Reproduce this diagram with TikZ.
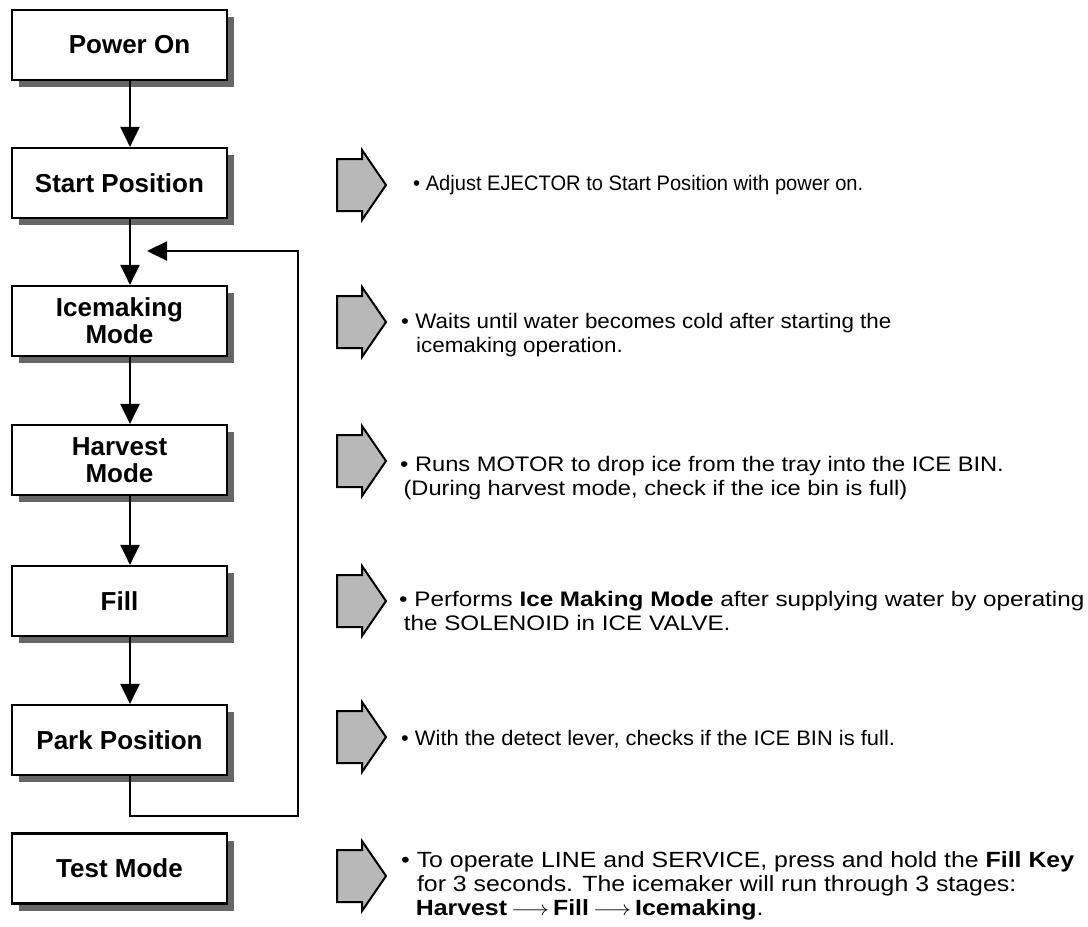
\documentclass[tikz,border=0pt]{standalone}
\usepackage{fontspec}
\setmainfont{Liberation Sans}
\usetikzlibrary{arrows.meta,shadows}
\definecolor{arrowgray}{HTML}{B8B8B8}
\definecolor{shadowgray}{HTML}{666666}
\newcommand{\notetext}[2]{\scalebox{#1}[1]{\begin{tabular}{@{}l@{}}#2\end{tabular}}}
\tikzset{
  stagebox/.style={draw, line width=2.2pt, fill=white, minimum width=215pt, minimum height=70pt,
    inner sep=0pt, align=center, font=\fontsize{26}{27}\selectfont\bfseries,
    drop shadow={shadow xshift=7pt, shadow yshift=-7pt, fill=shadowgray, opacity=1}},
  flow/.style={line width=2.2pt, -{Triangle[width=19pt,length=20pt]}},
  note/.style={anchor=west, inner sep=0pt, font=\fontsize{21}{24}\selectfont},
  pics/grayarr/.style={code={
    \draw[fill=arrowgray, line width=2pt, line join=miter]
      (0,-26) -- (25,-26) -- (25,-35) -- (49,0) -- (25,35) -- (25,26) -- (0,26) -- cycle;}}
}
\begin{document}
\begin{tikzpicture}[x=1pt,y=-1pt]
\useasboundingbox (0,0) rectangle (1088,927);
% boxes
\node[stagebox] (power) at (119.5,45) {\hspace*{20pt}Power On};
\node[stagebox] (start) at (119.5,183) {Start Position};
\node[stagebox] (ice) at (119.5,321) {Icemaking\\Mode};
\node[stagebox] (harv) at (119.5,460) {Harvest\\Mode};
\node[stagebox] (fill) at (119.5,601) {Fill};
\node[stagebox] (park) at (119.5,740) {Park Position};
\node[stagebox] (test) at (119.5,868.5) {Test Mode};
% connectors
\draw[flow] ([xshift=10.5pt]power.south) -- ([xshift=10.5pt]start.north);
\draw[flow] ([xshift=10.5pt]start.south) -- ([xshift=10.5pt]ice.north);
\draw[flow] ([xshift=10.5pt]ice.south) -- ([xshift=10.5pt]harv.north);
\draw[flow] ([xshift=10.5pt]harv.south) -- ([xshift=10.5pt]fill.north);
\draw[flow] ([xshift=10.5pt]fill.south) -- ([xshift=10.5pt]park.north);
\coordinate (lb) at (298,816);
\coordinate (lt) at (298,251);
\coordinate (le) at (147,251);
\draw[flow] ([xshift=10.5pt]park.south) |- (lb) -- (lt) -- (le);
% gray arrows
\pic at (337,185) {grayarr};
\pic at (337,322) {grayarr};
\pic at (337,461) {grayarr};
\pic at (337,601) {grayarr};
\pic at (337,737) {grayarr};
\pic at (337,876) {grayarr};
% notes
\node[note] (n1) at (413,186) {\notetext{0.957}{• Adjust EJECTOR to Start Position with power on.}};
\node[note] (n2) at (401,336) {\notetext{1.067}{• Waits until water becomes cold after starting the\\\hspace*{14pt}icemaking operation.}};
\node[note] (n3) at (400,479) {\notetext{1.127}{• Runs MOTOR to drop ice from the tray into the ICE BIN.\\\hspace*{3pt}(During harvest mode, check if the ice bin is full)}};
\node[note] (n4) at (399,614) {\notetext{1.155}{• Performs \textbf{Ice Making Mode} after supplying water by operating\\\hspace*{4pt}the SOLENOID in ICE VALVE.}};
\node[note] (n5) at (401,741) {\notetext{1.044}{• With the detect lever, checks if the ICE BIN is full.}};
\node[note, font=\fontsize{22}{24}\selectfont] (n6) at (401,887) {\notetext{1.13}{• To operate LINE and SERVICE, press and hold the \textbf{Fill Key}\\\hspace*{14pt}for 3 seconds. The icemaker will run through 3 stages:\\\hspace*{13pt}\textbf{Harvest}\,$\longrightarrow$\,\textbf{Fill}\,$\longrightarrow$\,\textbf{Icemaking}.}};
\end{tikzpicture}
\end{document}
